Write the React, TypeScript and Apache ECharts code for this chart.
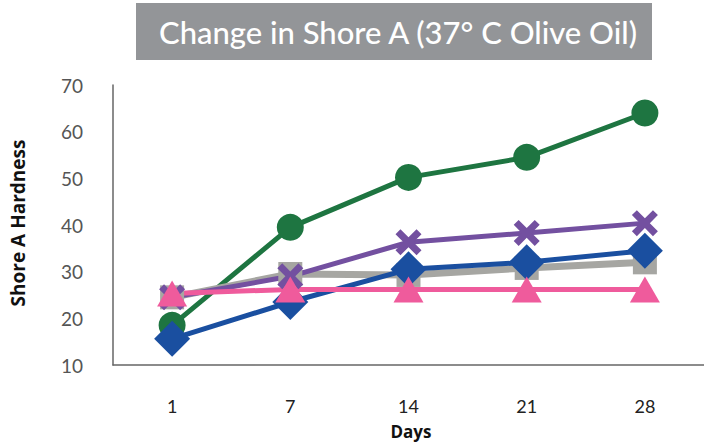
import React, { useEffect, useRef } from "react";
import * as echarts from "echarts";

const days = ["1", "7", "14", "21", "28"];
const greenValues = [18.5, 39.5, 50.2, 54.5, 64];
const grayValues = [24.5, 29.5, 29.3, 30.8, 32];
const purpleValues = [24.5, 29, 36.3, 38.3, 40.4];
const blueValues = [15.6, 23.5, 30.5, 32, 34.5];
const pinkValues = [25.3, 26.2, 26.2, 26.2, 26.2];
const yTicks = { min: 10, max: 70, interval: 10 };

const crossPath =
  "path://M0,0.19 L0.19,0 L0.5,0.31 L0.81,0 L1,0.19 L0.69,0.5 L1,0.81 L0.81,1 L0.5,0.69 L0.19,1 L0,0.81 L0.31,0.5 Z";

export default function App() {
  const ref = useRef<HTMLDivElement>(null);
  useEffect(() => {
    if (!ref.current) return;
    const chart = echarts.init(ref.current, undefined, { renderer: "svg" });
    const mk = (
      name: string,
      data: number[],
      color: string,
      symbol: string,
      size: number | number[],
      width: number
    ) => ({
      name,
      type: "line",
      data,
      symbol,
      symbolSize: size,
      lineStyle: { color, width },
      itemStyle: { color, borderWidth: 0 },
      emphasis: { disabled: true },
    });
    chart.setOption({
      animation: false,
      graphic: [
        {
          type: "rect",
          left: 136,
          top: 3,
          shape: { width: 516, height: 57 },
          style: { fill: "#939598" },
        },
        {
          type: "text",
          x: 398,
          y: 32,
          style: {
            text: "Change in Shore A (37° C Olive Oil)",
            fill: "#ffffff",
            font: "500 31px Lato",
            textAlign: "center",
            textVerticalAlign: "middle",
          },
        },
        {
          type: "text",
          x: 411,
          y: 431,
          style: {
            text: "Days",
            fill: "#111111",
            font: "bold 17px 'Open Sans'",
            textAlign: "center",
            textVerticalAlign: "middle",
          },
        },
        {
          type: "text",
          x: 18,
          y: 223,
          rotation: Math.PI / 2,
          style: {
            text: "Shore A Hardness",
            fill: "#111111",
            font: "bold 19px 'Open Sans'",
            textAlign: "center",
            textVerticalAlign: "middle",
          },
        },
      ],
      grid: { left: 113, top: 85, width: 596, height: 280, containLabel: false },
      xAxis: {
        type: "category",
        data: days,
        boundaryGap: true,
        axisLine: { lineStyle: { color: "#666666", width: 1.5 } },
        axisTick: { show: false },
        axisLabel: { color: "#222222", fontSize: 18, fontFamily: "Lato", margin: 32 },
      },
      yAxis: {
        type: "value",
        min: yTicks.min,
        max: yTicks.max,
        interval: yTicks.interval,
        axisLine: { show: true, lineStyle: { color: "#666666", width: 1.5 } },
        axisTick: { show: false },
        splitLine: { show: false },
        axisLabel: { color: "#555555", fontSize: 19, fontFamily: "Lato", margin: 30 },
      },
      series: [
        mk("Green", greenValues, "#1e7541", "circle", 27, 5),
        mk("Gray", grayValues, "#a6a6a2", "rect", 24, 7),
        mk("Purple", purpleValues, "#7350a0", crossPath, 26, 5),
        mk("Blue", blueValues, "#1a4fa0", "diamond", [36, 36], 5),
        mk("Pink", pinkValues, "#ef5b9c", "triangle", [30, 26], 5),
      ],
    });
    return () => chart.dispose();
  }, []);
  return (
    <div
      ref={ref}
      style={{ position: "absolute", left: 0, top: 0, width: 704, height: 442 }}
    />
  );
}
